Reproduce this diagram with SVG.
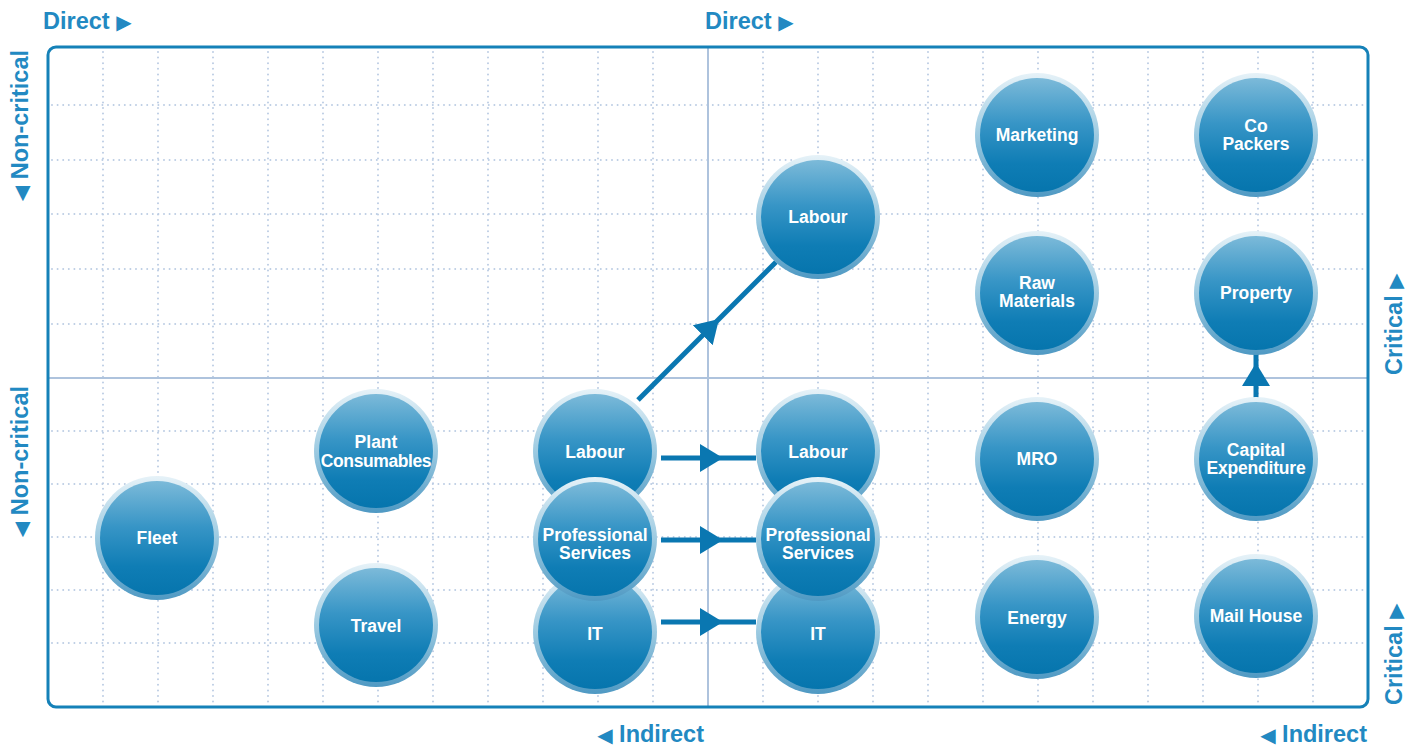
<svg xmlns="http://www.w3.org/2000/svg" xmlns:xlink="http://www.w3.org/1999/xlink" width="1416" height="747" viewBox="0 0 1416 747">
<style>
.dot{fill:none;stroke:#bccde4;stroke-width:2;stroke-linecap:round;stroke-dasharray:0 5.6}
.axis{fill:none;stroke:#aec3dd;stroke-width:2}
.frame{fill:none;stroke:#1581b8;stroke-width:3}
.lbl{font-family:"Liberation Sans",Arial,sans-serif;font-weight:bold;font-size:17.5px;fill:#ffffff;text-anchor:middle}
.ax{font-family:"Liberation Sans",Arial,sans-serif;font-weight:bold;font-size:23.5px;fill:#2289c2}
.tri{font-family:"DejaVu Sans",sans-serif;font-size:20px}
.conn{fill:none;stroke:#0a77b1;stroke-width:5}
</style>
<defs>
<linearGradient id="ring" x1="0" y1="0" x2="0" y2="1">
<stop offset="0" stop-color="#e6f2f8"/>
<stop offset="0.5" stop-color="#9ccae1"/>
<stop offset="1" stop-color="#4f99c3"/>
</linearGradient>
<linearGradient id="core" x1="0" y1="0" x2="0" y2="1">
<stop offset="0" stop-color="#7cbad9"/>
<stop offset="0.4" stop-color="#3795c6"/>
<stop offset="0.75" stop-color="#0f7db5"/>
<stop offset="1" stop-color="#0675ad"/>
</linearGradient>
<g id="disc"><circle r="62" fill="url(#ring)"/><circle r="57" fill="url(#core)"/></g>
<marker id="ah" markerUnits="userSpaceOnUse" markerWidth="24" markerHeight="30" refX="23" refY="14" orient="auto" viewBox="0 0 24 28">
<path d="M0 0 L23 14 L0 28 Z" fill="#0a77b1"/>
</marker>
</defs>
<rect width="1416" height="747" fill="#ffffff"/>
<g id="grid">
<path class="dot" d="M103 52V703M158 52V703M213 52V703M268 52V703M323 52V703M378 52V703M433 52V703M488 52V703M543 52V703M598 52V703M653 52V703M763 52V703M818 52V703M873 52V703M928 52V703M983 52V703M1038 52V703M1093 52V703M1148 52V703M1203 52V703M1258 52V703M1313 52V703"/>
<path class="dot" d="M52 105H1364M52 160H1364M52 214H1364M52 269H1364M52 324H1364M52 431H1364M52 484H1364M52 537H1364M52 590H1364M52 643H1364"/>
<path class="axis" d="M708 47V707M48 378H1368"/>
<rect class="frame" x="48" y="47" width="1320" height="660" rx="8"/>
</g>
<g id="axis-labels">
<text class="ax" x="43" y="29">Direct <tspan class="tri">▶</tspan></text>
<text class="ax" x="705" y="29">Direct <tspan class="tri">▶</tspan></text>
<text class="ax" x="704" y="742" text-anchor="end"><tspan class="tri">◀</tspan> Indirect</text>
<text class="ax" x="1367" y="742" text-anchor="end"><tspan class="tri">◀</tspan> Indirect</text>
<text class="ax" transform="translate(28 50) rotate(-90)" text-anchor="end"><tspan class="tri">◀</tspan> Non-critical</text>
<text class="ax" transform="translate(28 386) rotate(-90)" text-anchor="end"><tspan class="tri">◀</tspan> Non-critical</text>
<text class="ax" transform="translate(1402 375) rotate(-90)">Critical <tspan class="tri">▶</tspan></text>
<text class="ax" transform="translate(1402 705) rotate(-90)">Critical <tspan class="tri">▶</tspan></text>
</g>
<g id="connectors">
<path class="conn" marker-mid="url(#ah)" d="M638 400L719 319L776 262"/>
<path class="conn" marker-mid="url(#ah)" d="M661 458L723 458L756 458"/>
<path class="conn" marker-mid="url(#ah)" d="M661 540L723 540L756 540"/>
<path class="conn" marker-mid="url(#ah)" d="M661 622L723 622L756 622"/>
<path class="conn" marker-mid="url(#ah)" d="M1256 398L1256 363L1256 354"/>
</g>
<g id="node-marketing"><use xlink:href="#disc" x="1037" y="135"/><text class="lbl" x="1037" y="141">Marketing</text></g>
<g id="node-copackers"><use xlink:href="#disc" x="1256" y="135"/><text class="lbl" x="1256" y="132">Co</text><text class="lbl" x="1256" y="150">Packers</text></g>
<g id="node-labour-top"><use xlink:href="#disc" x="818" y="217"/><text class="lbl" x="818" y="223">Labour</text></g>
<g id="node-rawmaterials"><use xlink:href="#disc" x="1037" y="293"/><text class="lbl" x="1037" y="289">Raw</text><text class="lbl" x="1037" y="307">Materials</text></g>
<g id="node-property"><use xlink:href="#disc" x="1256" y="293"/><text class="lbl" x="1256" y="299">Property</text></g>
<g id="node-plant"><use xlink:href="#disc" x="376" y="451"/><text class="lbl" x="376" y="448">Plant</text><text class="lbl" x="376" y="467" letter-spacing="-0.4">Consumables</text></g>
<g id="node-mro"><use xlink:href="#disc" x="1037" y="459"/><text class="lbl" x="1037" y="465">MRO</text></g>
<g id="node-capex"><use xlink:href="#disc" x="1256" y="459"/><text class="lbl" x="1256" y="456">Capital</text><text class="lbl" x="1256" y="474" letter-spacing="-0.2">Expenditure</text></g>
<g id="node-fleet"><use xlink:href="#disc" x="157" y="538"/><text class="lbl" x="157" y="544">Fleet</text></g>
<g id="node-travel"><use xlink:href="#disc" x="376" y="625"/><text class="lbl" x="376" y="632">Travel</text></g>
<g id="node-energy"><use xlink:href="#disc" x="1037" y="617"/><text class="lbl" x="1037" y="624">Energy</text></g>
<g id="node-mailhouse"><use xlink:href="#disc" x="1256" y="616"/><text class="lbl" x="1256" y="622">Mail House</text></g>
<g id="node-labour-left"><use xlink:href="#disc" x="595" y="451"/><text class="lbl" x="595" y="458">Labour</text></g>
<g id="node-it-left"><use xlink:href="#disc" x="595" y="632"/><text class="lbl" x="595" y="640">IT</text></g>
<g id="node-ps-left"><use xlink:href="#disc" x="595" y="539"/><text class="lbl" x="595" y="541">Professional</text><text class="lbl" x="595" y="559">Services</text></g>
<g id="node-labour-right"><use xlink:href="#disc" x="818" y="451"/><text class="lbl" x="818" y="458">Labour</text></g>
<g id="node-it-right"><use xlink:href="#disc" x="818" y="632"/><text class="lbl" x="818" y="640">IT</text></g>
<g id="node-ps-right"><use xlink:href="#disc" x="818" y="539"/><text class="lbl" x="818" y="541">Professional</text><text class="lbl" x="818" y="559">Services</text></g>
</svg>
